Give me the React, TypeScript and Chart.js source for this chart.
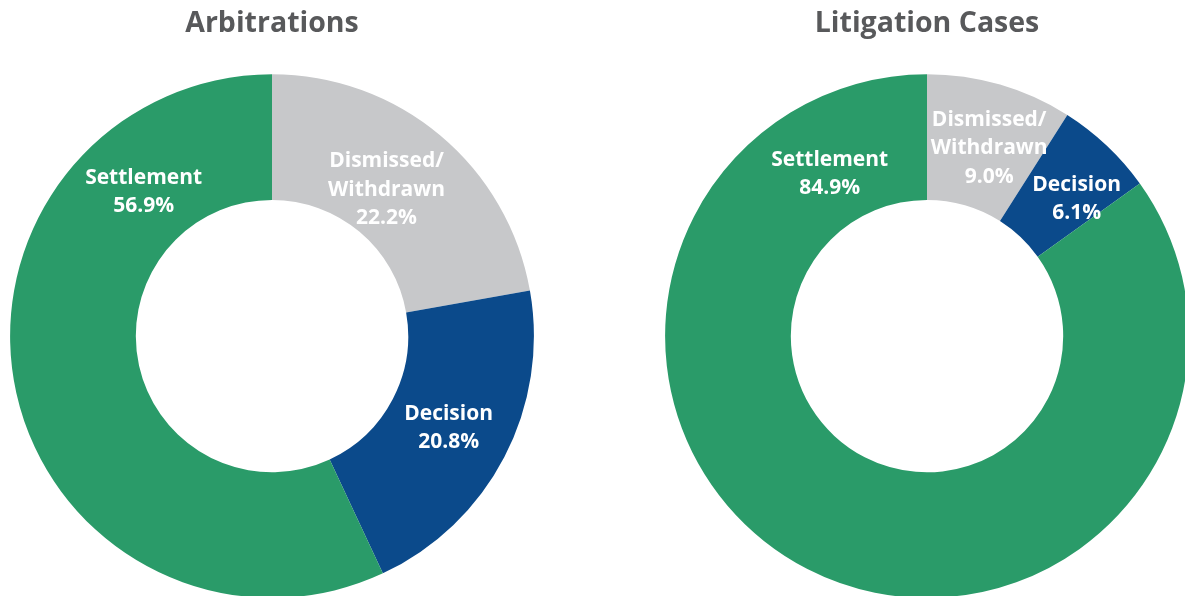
import React, { useEffect, useRef } from "react";
import { Chart, registerables } from "chart.js";

Chart.register(...registerables);

const categories = ["Dismissed/\nWithdrawn", "Decision", "Settlement"];
const arbitrationValues = [22.2, 20.8, 56.9];
const litigationValues = [9.0, 6.1, 84.9];
const colors = ["#c7c8ca", "#0b4a8b", "#2a9b69"];
const titles = ["Arbitrations", "Litigation Cases"];
// label angle overrides (degrees clockwise from top), null = arc middle
const arbitrationLabelAngles = [38, null, -41.7];
const litigationLabelAngles = [18.3, 47.5, -31];
const arbitrationLabelRadius = [186, null, 193];
const litigationLabelRadius = [198, 203, 189];

const FONT = "'Open Sans', 'Noto Sans', sans-serif";

const sliceLabels = {
  id: "sliceLabels",
  afterDatasetsDraw(chart: any, _args: any, opts: any) {
    const ctx = chart.ctx;
    const meta = chart.getDatasetMeta(0);
    const values = chart.data.datasets[0].data;
    ctx.save();
    ctx.fillStyle = "#ffffff";
    ctx.font = `bold 21px ${FONT}`;
    ctx.textAlign = "center";
    ctx.textBaseline = "middle";
    meta.data.forEach((arc: any, i: number) => {
      const p = arc.getProps(["x", "y", "startAngle", "endAngle", "innerRadius", "outerRadius"], true);
      const ovA = opts.angles ? opts.angles[i] : null;
      const ovR = opts.radii ? opts.radii[i] : null;
      const ang = ovA != null ? (ovA * Math.PI) / 180 - Math.PI / 2 : (p.startAngle + p.endAngle) / 2;
      const r = ovR != null ? ovR : (p.innerRadius + p.outerRadius) / 2;
      const cx = p.x + Math.cos(ang) * r;
      const cy = p.y + Math.sin(ang) * r;
      const lines = String(chart.data.labels[i]).split("\n");
      lines.push(values[i].toFixed(1) + "%");
      const lh = 28.5;
      const y0 = cy - ((lines.length - 1) * lh) / 2;
      lines.forEach((t: string, k: number) => ctx.fillText(t, cx, y0 + k * lh));
    });
    ctx.restore();
  },
};

function Donut({ values, title, angles, radii }: any) {
  const ref = useRef<HTMLCanvasElement>(null);
  useEffect(() => {
    const chart = new Chart(ref.current as HTMLCanvasElement, {
      type: "doughnut",
      data: {
        labels: categories,
        datasets: [
          {
            data: values,
            backgroundColor: colors,
            borderWidth: 0,
          },
        ],
      },
      options: {
        responsive: false,
        animation: false,
        cutout: "52%",
        rotation: 0,
        layout: { padding: { left: 10, right: 11, top: 0, bottom: 2 } },
        plugins: {
          legend: { display: false },
          tooltip: { enabled: false },
          title: {
            display: true,
            text: title,
            color: "#58595b",
            font: { family: FONT, size: 28.5, weight: "bold" },
            padding: { top: 7, bottom: 33 },
          },
          sliceLabels: { angles, radii },
        } as any,
      },
      plugins: [sliceLabels],
    });
    return () => chart.destroy();
  }, []);
  return <canvas ref={ref} width={545} height={600} />;
}

export default function App() {
  return (
    <div
      style={{
        position: "fixed",
        left: 0,
        top: 0,
        width: 1185,
        height: 596,
        overflow: "hidden",
        background: "#ffffff",
      }}
    >
      <div style={{ position: "absolute", left: 0, top: 0 }}>
        <Donut values={arbitrationValues} title={titles[0]} angles={arbitrationLabelAngles} radii={arbitrationLabelRadius} />
      </div>
      <div style={{ position: "absolute", left: 655, top: 0 }}>
        <Donut values={litigationValues} title={titles[1]} angles={litigationLabelAngles} radii={litigationLabelRadius} />
      </div>
    </div>
  );
}
